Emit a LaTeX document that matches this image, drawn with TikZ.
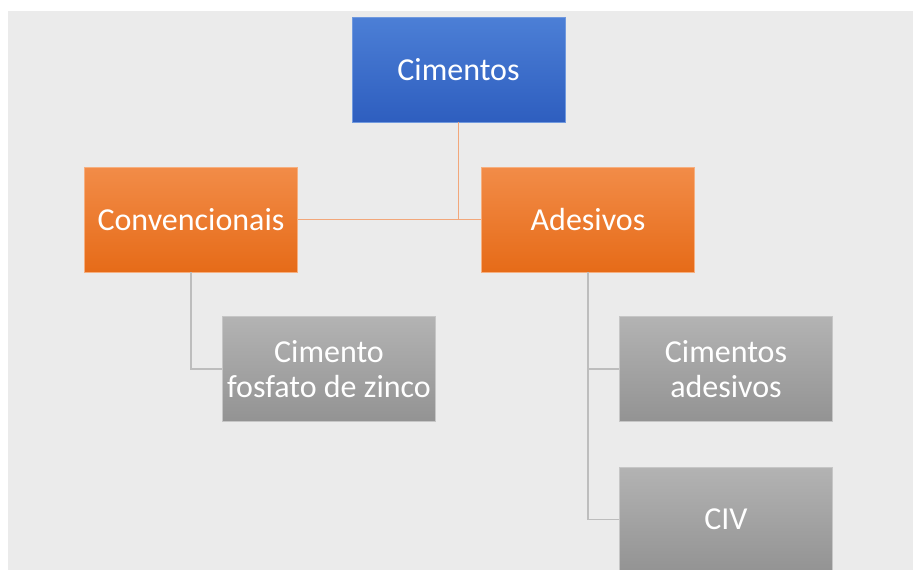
\documentclass[tikz,border=0pt]{standalone}
\usepackage{fontspec}
\setmainfont{Carlito}
\definecolor{slidebg}{HTML}{EBEBEB}
\definecolor{bluetop}{HTML}{4C7FD6}
\definecolor{bluebot}{HTML}{2E5EBF}
\definecolor{orangetop}{HTML}{F28C48}
\definecolor{orangebot}{HTML}{E66B18}
\definecolor{graytop}{HTML}{B3B3B3}
\definecolor{graybot}{HTML}{939393}
\definecolor{orangeline}{HTML}{F2A77A}
\definecolor{grayline}{HTML}{BDBDBD}
\begin{document}
\begin{tikzpicture}[x=1pt, y=-1pt,
        box/.style={rectangle, minimum width=213pt, minimum height=105pt, inner sep=0pt,
            text=white, align=center, font=\fontsize{32}{35}\selectfont},
        rootbox/.style={box, top color=bluetop, bottom color=bluebot, draw=bluetop!80!white},
        midbox/.style={box, top color=orangetop, bottom color=orangebot, draw=orangetop!70!white},
        leafbox/.style={box, top color=graytop, bottom color=graybot, draw=graytop!75!white},
        rootlink/.style={draw=orangeline, line width=1.4pt},
        leaflink/.style={draw=grayline, line width=1.4pt}
    ]
        % Slide background with its white margins
        \useasboundingbox (0,0) rectangle (913,570);
        \fill[white] (0,0) rectangle (913,570);
        \fill[slidebg] (8,11) rectangle (913,570);

        % Boxes
        \node[rootbox] (cim) at (458.5,69.5) {Cimentos};
        \node[midbox] (conv) at (191,219.5) {Convencionais};
        \node[midbox] (ades) at (588,219.5) {Adesivos};
        \node[leafbox] (fosf) at (329,369) {Cimento\\fosfato de zinco};
        \node[leafbox] (adhs) at (726,369) {Cimentos\\adesivos};
        \node[leafbox] (civ) at (726,519.5) {CIV};

        % Links from the root
        \draw[rootlink] (cim.south) -- (cim.south |- conv.east);
        \draw[rootlink] (conv.east) -- (ades.west);

        % Links to the leaves
        \draw[leaflink] (conv.south) |- (fosf.west);
        \draw[leaflink] (ades.south) |- (adhs.west);
        \draw[leaflink] (ades.south) |- (civ.west);
    \end{tikzpicture}
\end{document}
